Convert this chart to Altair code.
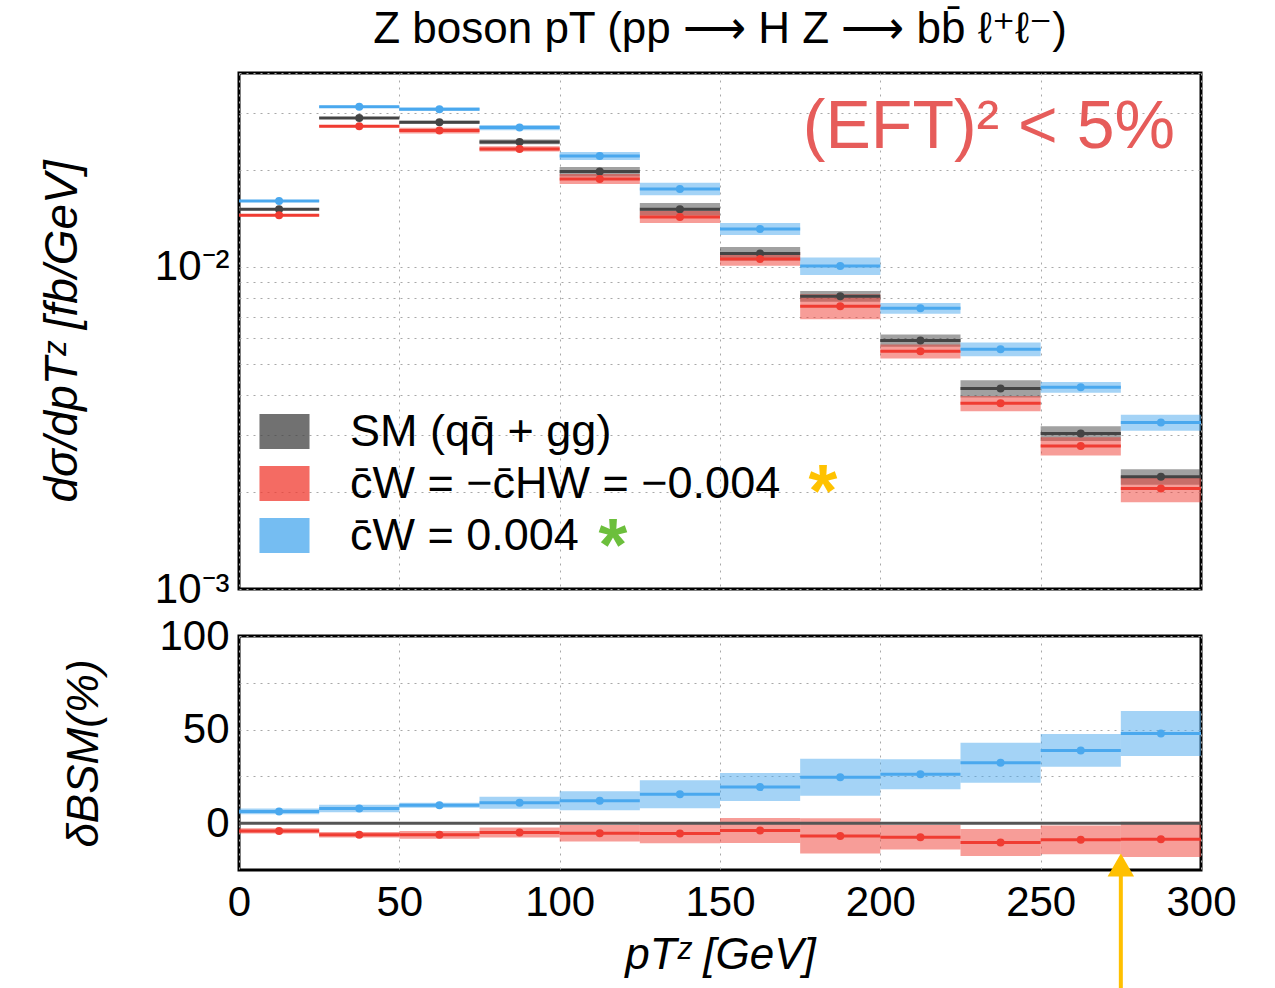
import altair as alt
import pandas as pd

FONT = "Liberation Sans"

# ---- data ----
bin_lo = [0, 25, 50, 75, 100, 125, 150, 175, 200, 225, 250, 275]
bin_hi = [25, 50, 75, 100, 125, 150, 175, 200, 225, 250, 275, 300]
bin_mid = [12.5, 37.5, 62.5, 87.5, 112.5, 137.5, 162.5, 187.5, 212.5, 237.5, 262.5, 287.5]

series_names = ["SM (qq̄ + gg)", "c̄W = −c̄HW = −0.004", "c̄W = 0.004"]
series_colors = ["#444444", "#F03C32", "#4AA8EE"]

# dsigma/dpT [fb/GeV]
sm_xsec = [0.01511, 0.02902, 0.02814, 0.02444, 0.01977, 0.01511, 0.01100, 0.00811, 0.00591, 0.00419, 0.00304, 0.00223]
red_xsec = [0.01447, 0.02735, 0.02650, 0.02325, 0.01876, 0.01430, 0.01059, 0.00755, 0.00547, 0.00377, 0.00278, 0.00205]
blue_xsec = [0.01603, 0.03141, 0.03089, 0.02708, 0.02211, 0.01747, 0.01312, 0.01007, 0.00744, 0.00555, 0.00423, 0.00329]
# relative band half-widths (%)
sm_err = [0.7, 0.7, 1.1, 1.7, 3.4, 4.5, 4.8, 3.8, 4.3, 6.2, 5.3, 5.5]
red_err = [0.7, 0.7, 2.0, 1.9, 3.6, 4.3, 4.8, 8.9, 5.0, 5.5, 6.5, 9.3]
blue_err = [0.7, 0.7, 1.2, 1.9, 2.9, 4.5, 4.3, 6.3, 3.8, 4.9, 3.9, 5.7]

# delta_BSM (%)
red_delta = [-4.1, -6.2, -6.2, -5.0, -5.4, -5.5, -3.9, -6.8, -7.5, -10.3, -8.9, -8.6]
red_delta_err = [1.4, 1.5, 2.1, 2.7, 4.4, 5.2, 6.7, 9.4, 6.6, 7.2, 7.7, 9.4]
blue_delta = [6.3, 7.9, 9.6, 10.9, 12.0, 15.5, 19.3, 24.5, 26.2, 32.3, 38.9, 47.9]
blue_delta_err = [1.5, 2.0, 1.3, 3.2, 5.1, 7.5, 7.5, 9.9, 8.0, 10.7, 8.8, 12.0]

top_y_ticks = [0.001, 0.002, 0.003, 0.004, 0.005, 0.006, 0.007, 0.008, 0.009, 0.01, 0.02, 0.03, 0.04]
bot_y_ticks = [0, 25, 50, 75, 100]
x_ticks = [0, 50, 100, 150, 200, 250, 300]
arrow_x = [275]

# ---- tables ----
rows = []
for name, vals, errs in zip(series_names, [sm_xsec, red_xsec, blue_xsec], [sm_err, red_err, blue_err]):
    for i in range(len(bin_lo)):
        v = vals[i]
        e = errs[i] / 100.0
        rows.append(dict(series=name, lo=bin_lo[i], hi=bin_hi[i], mid=bin_mid[i],
                         val=v, blo=v * (1 - e), bhi=v * (1 + e)))
top_df = pd.DataFrame(rows)

rows = []
for name, vals, errs in zip(series_names[1:], [red_delta, blue_delta], [red_delta_err, blue_delta_err]):
    for i in range(len(bin_lo)):
        rows.append(dict(series=name, lo=bin_lo[i], hi=bin_hi[i], mid=bin_mid[i],
                         val=vals[i], blo=vals[i] - errs[i], bhi=vals[i] + errs[i]))
bot_df = pd.DataFrame(rows)

W = 962
H_TOP = 516
H_BOT = 234

color_scale = alt.Scale(domain=series_names, range=series_colors)
x_scale = alt.Scale(domain=[0, 300], nice=False, zero=False)
yt_scale = alt.Scale(type="log", domain=[0.001, 0.04], nice=False)
yb_scale = alt.Scale(domain=[-25, 100], nice=False, zero=False)

GRID = dict(grid=True, gridColor="#A8A8A8", gridDash=[2, 5], gridWidth=1, domain=False, ticks=False)

x_axis_top = alt.Axis(values=x_ticks, labels=False, title=None, **GRID)
x_axis_bot = alt.Axis(values=x_ticks, labelFontSize=42, labelPadding=12, labelFlush=False,
                      labelOverlap=False, title="pTᶻ [GeV]", titleFontSize=44,
                      titleFontStyle="italic", titleFontWeight="normal", titlePadding=10,
                      labelFont=FONT, titleFont=FONT, labelColor="black", titleColor="black", **GRID)
y_axis_top = alt.Axis(values=top_y_ticks,
                      labelExpr="datum.value == 0.01 ? '10⁻²' : (datum.value == 0.001 ? '10⁻³' : '')",
                      labelFontSize=42, labelPadding=10, labelFlush=False, labelOverlap=False,
                      title="dσ/dpTᶻ [fb/GeV]", titleFontSize=46, titleFontStyle="italic",
                      titleFontWeight="normal", titlePadding=68,
                      labelFont=FONT, titleFont=FONT, labelColor="black", titleColor="black", **GRID)
y_axis_bot = alt.Axis(values=bot_y_ticks,
                      labelExpr="datum.value % 50 == 0 ? datum.label : ''",
                      labelFontSize=42, labelPadding=10, labelFlush=False, labelOverlap=False,
                      title="δBSM(%)", titleFontSize=44, titleFontStyle="italic",
                      titleFontWeight="normal", titlePadding=52,
                      labelFont=FONT, titleFont=FONT, labelColor="black", titleColor="black", **GRID)

legend = alt.Legend(title=None, orient="none", legendX=23, legendY=336,
                    symbolType="M-1.43,-1H1.43V1H-1.43Z", symbolSize=1225,
                    symbolOpacity=0.76, symbolStrokeWidth=0,
                    labelFontSize=45, labelFont=FONT, labelColor="black",
                    labelOffset=43, rowPadding=6, labelLimit=800)

# ---- top panel ----
tb = alt.Chart(top_df)
t_bands = tb.mark_rect(opacity=0.5).encode(
    x=alt.X("lo:Q", scale=x_scale, axis=x_axis_top), x2="hi:Q",
    y=alt.Y("blo:Q", scale=yt_scale, axis=y_axis_top), y2="bhi:Q",
    color=alt.Color("series:N", scale=color_scale, legend=legend, sort=series_names),
)
t_lines = tb.mark_rule(strokeWidth=3).encode(
    x=alt.X("lo:Q", scale=x_scale), x2="hi:Q",
    y=alt.Y("val:Q", scale=yt_scale),
    color=alt.Color("series:N", scale=color_scale, legend=None),
)
t_pts = tb.mark_circle(size=64, opacity=1).encode(
    x=alt.X("mid:Q", scale=x_scale),
    y=alt.Y("val:Q", scale=yt_scale),
    color=alt.Color("series:N", scale=color_scale, legend=None),
)
one = pd.DataFrame({"k": [0]})
eft = alt.Chart(one).mark_text(text="(EFT)² < 5%", font=FONT, fontSize=68, color="#E65C5A",
                               align="right", baseline="alphabetic").encode(
    x=alt.value(936), y=alt.value(75))
star_y = alt.Chart(one).mark_text(text="*", font=FONT, fontSize=74, fontWeight="bold",
                                  color="#FFC200", align="center", baseline="middle").encode(
    x=alt.value(584), y=alt.value(421))
star_g = alt.Chart(one).mark_text(text="*", font=FONT, fontSize=74, fontWeight="bold",
                                  color="#6CBF3C", align="center", baseline="middle").encode(
    x=alt.value(374), y=alt.value(475))

top = alt.layer(t_bands, t_lines, t_pts, eft, star_y, star_g).properties(
    width=W, height=H_TOP,
    title=alt.TitleParams("Z boson pT (pp ⟶ H Z  ⟶ bb̄ ℓ⁺ℓ⁻)", fontSize=44, font=FONT,
                          fontWeight="normal", color="black", frame="group", anchor="middle",
                          offset=0),
)

# ---- bottom panel ----
bb = alt.Chart(bot_df)
b_bands = bb.mark_rect(opacity=0.5).encode(
    x=alt.X("lo:Q", scale=x_scale, axis=x_axis_bot), x2="hi:Q",
    y=alt.Y("blo:Q", scale=yb_scale, axis=y_axis_bot), y2="bhi:Q",
    color=alt.Color("series:N", scale=color_scale, legend=None),
)
zero = alt.Chart(pd.DataFrame({"z": [0]})).mark_rule(color="#555555", strokeWidth=3).encode(
    y=alt.Y("z:Q", scale=yb_scale))
b_lines = bb.mark_rule(strokeWidth=3).encode(
    x=alt.X("lo:Q", scale=x_scale), x2="hi:Q",
    y=alt.Y("val:Q", scale=yb_scale),
    color=alt.Color("series:N", scale=color_scale, legend=None),
)
b_pts = bb.mark_circle(size=64, opacity=1).encode(
    x=alt.X("mid:Q", scale=x_scale),
    y=alt.Y("val:Q", scale=yb_scale),
    color=alt.Color("series:N", scale=color_scale, legend=None),
)
adf = pd.DataFrame({"x": arrow_x})
arrow_line = alt.Chart(adf).mark_rule(color="#FFC000", strokeWidth=4).encode(
    x=alt.X("x:Q", scale=x_scale), y=alt.value(226), y2=alt.value(352))
arrow_head = alt.Chart(adf).mark_point(shape="triangle-up", filled=True, size=700,
                                       color="#FFC000", opacity=1).encode(
    x=alt.X("x:Q", scale=x_scale), y=alt.value(229))

bottom = alt.layer(b_bands, zero, b_lines, b_pts, arrow_line, arrow_head).properties(
    width=W, height=H_BOT)

chart = alt.vconcat(top, bottom, spacing=47, bounds="flush").resolve_scale(
    color="shared").configure(font=FONT).configure_view(
    stroke="black", strokeWidth=3).properties(
    padding={"left": 37, "top": 6, "right": 5, "bottom": 0}, background="white")

chart.save("out.html", embed_options={"renderer": "svg", "actions": False})
